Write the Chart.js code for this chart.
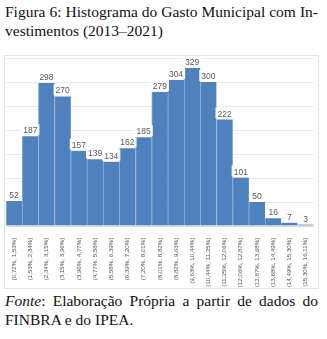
<!DOCTYPE html>
<html>
<head>
<meta charset="utf-8">
<script src="https://cdn.jsdelivr.net/npm/chart.js@4"></script>
<style>
  body { margin: 0; width: 327px; height: 339px; background: #fff; position: relative; overflow: hidden; }
  .txt { position: absolute; left: 5px; width: 313px; font-family: "Liberation Serif", serif; font-size: 15.5px; line-height: 19px; color: #111; }
  .just { text-align: justify; text-align-last: justify; white-space: nowrap; }
  #title { top: 2px; }
  #fonte { top: 291px; }
  #box { position: absolute; left: 4px; top: 55px; width: 313px; height: 232px; border: 1px solid #e3e3e3; }
  #wrap { position: absolute; left: 5px; top: 57px; width: 312px; height: 230px; }
</style>
</head>
<body>

<div id="title" class="txt">
  <div class="just">Figura 6: Histograma do Gasto Municipal com In-</div>
  <div>vestimentos (2013–2021)</div>
</div>

<div id="box"></div>
<div id="wrap"><canvas id="histChart"></canvas></div>

<div id="fonte" class="txt">
  <div class="just"><i>Fonte</i>: Elaboração Própria a partir de dados do</div>
  <div>FINBRA e do IPEA.</div>
</div>

<script>
// Histogram data --------------------------------------------

const bins = [
  "[0,72%, 1,53%]", "(1,53%, 2,34%]", "(2,34%, 3,15%]", "(3,15%, 3,96%]",
  "(3,96%, 4,77%]", "(4,77%, 5,58%]", "(5,58%, 6,39%]", "(6,39%, 7,20%]",
  "(7,20%, 8,01%]", "(8,01%, 8,82%]", "(8,82%, 9,63%]", "(9,63%, 10,44%]",
  "(10,44%, 11,25%]", "(11,25%, 12,06%]", "(12,06%, 12,87%]", "(12,87%, 13,68%]",
  "(13,68%, 14,49%]", "(14,49%, 15,30%]", "(15,30%, 16,11%]"
];
const counts = [52, 187, 298, 270, 157, 139, 134, 162, 185, 279, 304, 329, 300, 222, 101, 50, 16, 7, 3];

const yMax = 350;
const yStep = 50;

// value labels with a white box behind them, drawn above each bar
const barLabels = {
  id: 'barLabels',
  afterDatasetsDraw(chart) {
    const ctx = chart.ctx;
    const meta = chart.getDatasetMeta(0);
    ctx.save();
    ctx.font = '8.5px "Liberation Sans", sans-serif';
    ctx.textAlign = 'center';
    ctx.textBaseline = 'bottom';
    meta.data.forEach((bar, i) => {
      const txt = String(counts[i]);
      const w = ctx.measureText(txt).width;
      const y = bar.y - 1;
      ctx.fillStyle = '#fff';
      ctx.fillRect(bar.x - w / 2 - 2, y - 11, w + 4, 11);
      ctx.fillStyle = '#595959';
      ctx.fillText(txt, bar.x, y);
    });
    ctx.restore();
  }
};

let ctx = document.getElementById('histChart');
let chart = new Chart(ctx, {
  type: 'bar',
  data: {
    labels: bins,
    datasets: [{
      data: counts,
      backgroundColor: '#4f81bd',
      borderColor: '#8eadd6',
      borderWidth: { left: 1, right: 0, top: 0, bottom: 0 },
      borderSkipped: false,
      barPercentage: 1,
      categoryPercentage: 1
    }]
  },
  options: {
    responsive: true,
    maintainAspectRatio: false,
    animation: false,
    layout: {
      padding: { left: 1, right: 1, top: 1, bottom: 0 }
    },
    plugins: {
      legend: { display: false },
      tooltip: { enabled: false }
    },
    scales: {
      x: {
        grid: { display: false },
        border: { color: '#d9d9d9' },
        ticks: {
          autoSkip: false,
          minRotation: 90,
          maxRotation: 90,
          padding: 4,
          color: '#595959',
          font: { family: '"Liberation Sans", sans-serif', size: 6.2 }
        },
        afterFit: (axis) => { axis.height = 61; }
      },
      y: {
        min: 0,
        max: yMax,
        ticks: { display: false, stepSize: yStep },
        grid: { color: '#e8e8e8', drawTicks: false },
        border: { display: false },
        afterFit: (axis) => { axis.width = 0; }
      }
    }
  },
  plugins: [barLabels]
});
</script>
</body>
</html>
